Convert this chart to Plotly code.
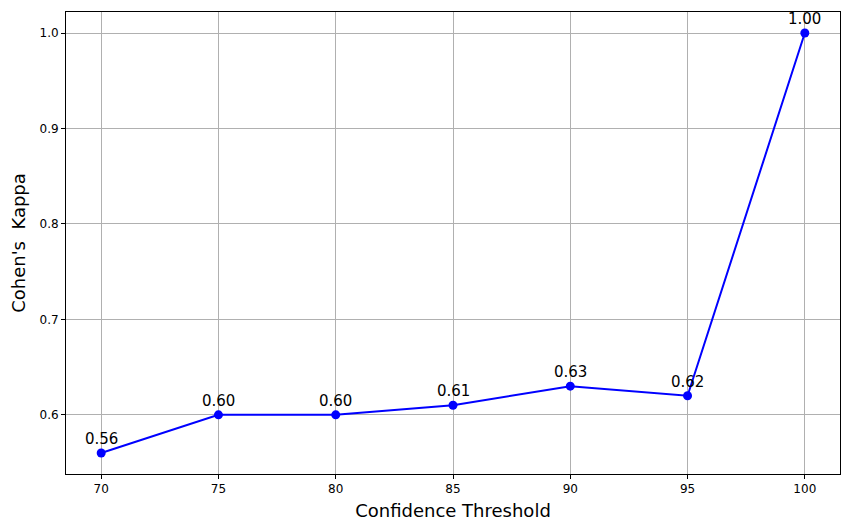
import plotly.graph_objects as go

thresholds = [70, 75, 80, 85, 90, 95, 100]
kappa = [0.56, 0.60, 0.60, 0.61, 0.63, 0.62, 1.00]
labels = [f"{v:.2f}" for v in kappa]

fig = go.Figure()
fig.add_trace(go.Scatter(
    x=thresholds, y=kappa, mode="lines+markers",
    line=dict(color="blue", width=2),
    marker=dict(color="blue", size=9),
    showlegend=False,
))
for x, y, t in zip(thresholds, kappa, labels):
    fig.add_annotation(x=x, y=y, text=t, showarrow=False, yanchor="bottom",
                       yshift=3, font=dict(size=15, color="black", family="DejaVu Sans"))

axis_common = dict(
    showgrid=True, gridcolor="#b0b0b0", gridwidth=1,
    showline=True, linecolor="black", linewidth=1, mirror=True,
    ticks="outside", ticklen=4, tickcolor="black",
    tickfont=dict(size=12, color="black", family="DejaVu Sans"),
    zeroline=False, automargin=False,
)
fig.update_xaxes(range=[68.5, 101.5], tickvals=[70, 75, 80, 85, 90, 95, 100],
                 title=dict(text="Confidence Threshold", font=dict(size=18, color="black", family="DejaVu Sans"), standoff=8),
                 **axis_common)
fig.update_yaxes(range=[0.538, 1.022], tickvals=[0.6, 0.7, 0.8, 0.9, 1.0],
                 ticktext=["0.6", "0.7", "0.8", "0.9", "1.0"],
                 title=dict(text="Cohen's  Kappa", font=dict(size=18, color="black", family="DejaVu Sans"), standoff=10),
                 **axis_common)
# page body has an 8px margin; offsets compensate so the plot area lands where intended
fig.update_layout(
    width=835, height=516,
    margin=dict(l=58, r=3, t=4, b=50),
    plot_bgcolor="white", paper_bgcolor="white",
    font=dict(family="DejaVu Sans"),
)
fig.write_html("out.html")
